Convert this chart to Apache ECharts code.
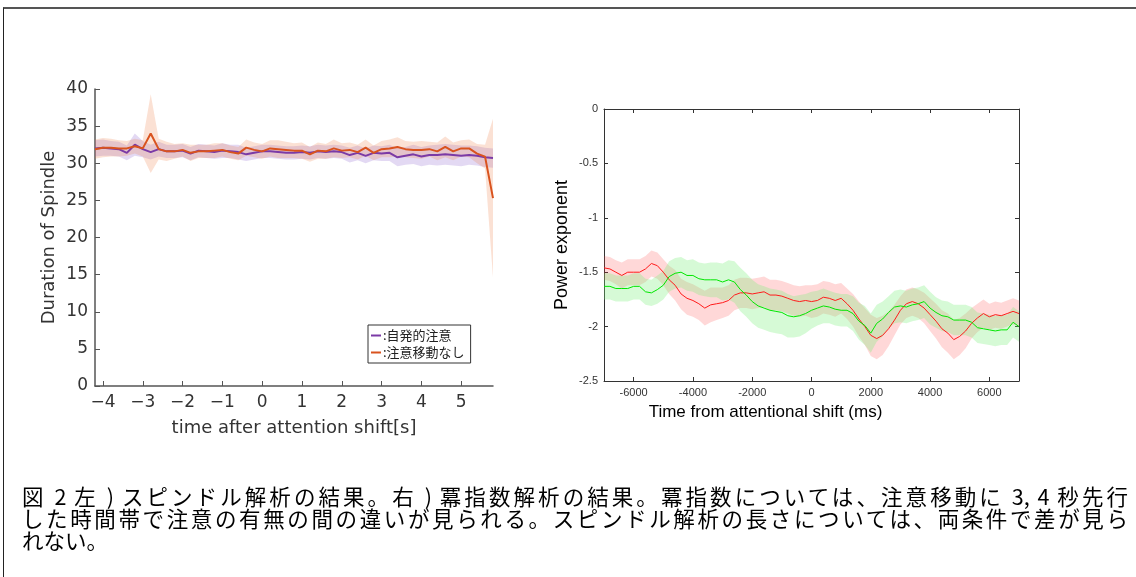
<!DOCTYPE html>
<html>
<head>
<meta charset="utf-8">
<script src="https://cdn.jsdelivr.net/npm/echarts@6/dist/echarts.min.js"></script>
<style>
  body { margin: 0; background: #fff; }
  #frame { position: absolute; left: 3px; top: 7px; right: 0; bottom: 0; border-top: 2px solid #555; border-left: 1px solid #222; }
  #chart { position: absolute; left: 0; top: 0; width: 1136px; height: 577px; }
  #caption { position: absolute; left: 22px; top: 485px; width: 1106px; font-family: "Noto Sans CJK JP", sans-serif; font-size: 21.5px; line-height: 22px; color: #000; }
  #caption .j { text-align: justify; text-align-last: justify; }
</style>
</head>
<body>
<div id="frame"></div>
<div id="chart"></div>
<div id="caption">
  <div class="j">図 2 左 ) スピンドル解析の結果。右 ) 冪指数解析の結果。冪指数については、注意移動に 3, 4 秒先行</div>
  <div class="j">した時間帯で注意の有無の間の違いが見られる。スピンドル解析の長さについては、両条件で差が見ら</div>
  <div>れない。</div>
</div>
<script>
// Left panel: spindle duration (s after attention shift)
const spindleTime = [-4.2, -4.0, -3.8, -3.6, -3.4, -3.2, -3.0, -2.8, -2.6, -2.4, -2.2, -2.0, -1.8, -1.6, -1.4, -1.2, -1.0, -0.8, -0.6, -0.4, -0.2,
  0.0, 0.2, 0.4, 0.6, 0.8, 1.0, 1.2, 1.4, 1.6, 1.8, 2.0, 2.2, 2.4, 2.6, 2.8, 3.0, 3.2, 3.4, 3.6, 3.8, 4.0, 4.2, 4.4, 4.6, 4.8, 5.0, 5.2, 5.4, 5.6, 5.8]
const spontaneous = [32.0, 32.1, 32.0, 31.9, 31.4, 32.5, 31.9, 31.5, 31.9, 31.6, 31.6, 31.7, 31.3, 31.7, 31.6, 31.5, 31.7, 31.6, 31.5, 31.2, 31.4,
  31.6, 31.6, 31.5, 31.4, 31.4, 31.5, 31.4, 31.6, 31.5, 31.6, 31.5, 31.1, 31.4, 31.0, 31.4, 31.3, 31.4, 30.8, 31.0, 31.2, 30.9, 31.1, 31.1, 31.2, 31.1, 31.0, 31.1, 31.0, 30.8, 30.7]
const spontaneousErr = [1.1, 1.1, 1.0, 1.0, 1.0, 1.5, 1.1, 1.0, 1.0, 0.9, 0.9, 0.9, 0.9, 0.9, 0.9, 0.9, 1.0, 0.9, 1.0, 0.9, 0.9,
  0.9, 0.9, 0.9, 0.9, 0.9, 0.9, 0.9, 0.9, 0.9, 0.9, 0.9, 1.0, 1.0, 1.0, 1.0, 1.0, 1.1, 1.2, 1.2, 1.3, 1.3, 1.3, 1.4, 1.4, 1.4, 1.4, 1.3, 1.3, 1.3, 1.3]
const noShift = [31.9, 32.1, 32.1, 32.0, 32.0, 32.3, 32.0, 34.0, 31.9, 31.6, 31.6, 31.8, 31.4, 31.6, 31.6, 31.7, 31.8, 31.5, 31.3, 32.1, 31.8,
  31.6, 32.0, 31.9, 31.8, 31.7, 31.7, 31.2, 31.7, 31.6, 32.0, 31.7, 31.8, 31.5, 32.1, 31.4, 31.9, 32.0, 32.2, 31.9, 31.8, 31.8, 31.9, 31.6, 32.2, 31.6, 32.0, 32.0, 31.3, 30.9, 25.3]
const noShiftErr = [1.3, 1.3, 1.2, 1.1, 1.0, 1.0, 1.1, 5.3, 1.4, 1.3, 1.0, 0.9, 1.1, 0.9, 0.9, 1.0, 0.9, 0.9, 0.9, 1.1, 1.0,
  1.0, 1.1, 1.2, 1.1, 1.0, 1.1, 1.0, 1.1, 1.0, 1.2, 1.0, 1.0, 1.0, 1.1, 1.0, 1.1, 1.2, 1.3, 1.1, 1.1, 1.2, 1.0, 1.2, 1.4, 1.2, 1.1, 1.2, 1.3, 1.6, 10.7]
const spindleTicks = [-4, -3, -2, -1, 0, 1, 2, 3, 4, 5]

// Right panel: power exponent (ms from attentional shift)
const expTime = [-7000, -6800, -6600, -6400, -6200, -6000, -5800, -5600, -5400, -5200, -5000, -4800, -4600, -4400, -4200, -4000, -3800, -3600,
  -3400, -3200, -3000, -2800, -2600, -2400, -2200, -2000, -1800, -1600, -1400, -1200, -1000, -800, -600, -400, -200, 0,
  200, 400, 600, 800, 1000, 1200, 1400, 1600, 1800, 2000, 2200, 2400, 2600, 2800, 3000, 3200, 3400, 3600,
  3800, 4000, 4200, 4400, 4600, 4800, 5000, 5200, 5400, 5600, 5800, 6000, 6200, 6400, 6600, 6800, 7000]
const redExp = [-1.46, -1.47, -1.50, -1.53, -1.50, -1.50, -1.50, -1.47, -1.42, -1.44, -1.50, -1.57, -1.62, -1.70, -1.74, -1.76, -1.79, -1.83,
  -1.80, -1.79, -1.78, -1.76, -1.71, -1.69, -1.69, -1.70, -1.69, -1.68, -1.71, -1.71, -1.72, -1.74, -1.76, -1.77, -1.76, -1.77,
  -1.76, -1.73, -1.74, -1.76, -1.74, -1.79, -1.85, -1.93, -2.00, -2.08, -2.11, -2.08, -2.02, -1.94, -1.85, -1.79, -1.77, -1.79,
  -1.83, -1.89, -1.95, -2.02, -2.06, -2.12, -2.09, -2.04, -1.97, -1.92, -1.88, -1.91, -1.89, -1.90, -1.88, -1.86, -1.88]
const redErr = [0.11, 0.11, 0.11, 0.12, 0.12, 0.12, 0.12, 0.12, 0.12, 0.12, 0.12, 0.13, 0.14, 0.14, 0.15, 0.15, 0.15, 0.16,
  0.16, 0.15, 0.14, 0.14, 0.14, 0.14, 0.14, 0.14, 0.14, 0.14, 0.14, 0.14, 0.14, 0.14, 0.14, 0.14, 0.14, 0.15,
  0.15, 0.15, 0.15, 0.15, 0.14, 0.14, 0.15, 0.16, 0.17, 0.19, 0.19, 0.18, 0.16, 0.14, 0.13, 0.13, 0.13, 0.13,
  0.14, 0.15, 0.16, 0.17, 0.18, 0.18, 0.17, 0.16, 0.14, 0.13, 0.13, 0.12, 0.12, 0.12, 0.12, 0.12, 0.12]
const greenExp = [-1.63, -1.63, -1.65, -1.65, -1.65, -1.63, -1.63, -1.68, -1.69, -1.66, -1.62, -1.54, -1.51, -1.50, -1.53, -1.53, -1.56, -1.57,
  -1.57, -1.57, -1.59, -1.57, -1.59, -1.66, -1.71, -1.77, -1.81, -1.83, -1.85, -1.86, -1.87, -1.90, -1.91, -1.90, -1.88, -1.85,
  -1.83, -1.81, -1.82, -1.84, -1.85, -1.85, -1.88, -1.95, -1.99, -2.06, -1.97, -1.93, -1.87, -1.82, -1.81, -1.82, -1.80, -1.79,
  -1.77, -1.83, -1.87, -1.90, -1.91, -1.94, -1.94, -1.94, -1.96, -2.01, -2.02, -2.03, -2.04, -2.03, -2.03, -1.96, -2.00]
const greenErr = [0.12, 0.12, 0.12, 0.12, 0.12, 0.12, 0.12, 0.12, 0.12, 0.13, 0.13, 0.14, 0.14, 0.14, 0.14, 0.15, 0.15, 0.15,
  0.16, 0.16, 0.17, 0.18, 0.19, 0.20, 0.20, 0.20, 0.20, 0.20, 0.20, 0.20, 0.20, 0.20, 0.19, 0.19, 0.18, 0.17,
  0.16, 0.16, 0.15, 0.15, 0.15, 0.15, 0.16, 0.17, 0.18, 0.18, 0.17, 0.16, 0.15, 0.15, 0.15, 0.15, 0.15, 0.15,
  0.15, 0.15, 0.14, 0.14, 0.14, 0.14, 0.14, 0.14, 0.14, 0.14, 0.14, 0.14, 0.14, 0.14, 0.14, 0.14, 0.14]
const expTicks = [-6000, -4000, -2000, 0, 2000, 4000, 6000]

const pairs = (xs, ys) => xs.map((x, i) => [x, ys[i]])

// shaded error band drawn as one polygon through the axis scales
function band(name, xs, mean, err, color, axisIdx) {
  return {
    name: name,
    type: "custom",
    xAxisIndex: axisIdx,
    yAxisIndex: axisIdx,
    silent: true,
    data: [[xs[0], mean[0]]],
    renderItem: function (params, api) {
      const pts = []
      xs.forEach((x, i) => pts.push(api.coord([x, mean[i] + err[i]])))
      for (let i = xs.length - 1; i >= 0; i--) pts.push(api.coord([xs[i], mean[i] - err[i]]))
      return { type: "polygon", shape: { points: pts }, style: { fill: color } }
    },
  }
}

function line(name, xs, ys, color, width, axisIdx) {
  return {
    name: name,
    type: "line",
    xAxisIndex: axisIdx,
    yAxisIndex: axisIdx,
    data: pairs(xs, ys),
    showSymbol: false,
    symbol: "none",
    silent: true,
    lineStyle: { color: color, width: width },
    itemStyle: { color: color },
  }
}

const leftFont = "DejaVu Sans"
const rightFont = "Liberation Sans"
const PURPLE = "#7b3aa6"
const ORANGE = "#d9531e"

const chart = echarts.init(document.getElementById("chart"))
chart.setOption({
  animation: false,
  grid: [
    { left: 95, top: 89, width: 398, height: 297 },
    { left: 604, top: 109, width: 415, height: 272 },
  ],
  legend: {
    data: ["自発的注意", "注意移動なし"],
    formatter: ":{name}",
    orient: "vertical",
    left: 368,
    top: 325,
    icon: "rect",
    itemWidth: 10,
    itemHeight: 2,
    itemGap: 4,
    padding: [4, 6, 4, 3],
    borderColor: "#333",
    borderWidth: 1,
    backgroundColor: "#fff",
    selectedMode: false,
    textStyle: { fontFamily: "Noto Sans CJK JP", fontSize: 13, color: "#222", padding: [0, 0, 0, -3] },
  },
  xAxis: [
    {
      type: "value", gridIndex: 0, min: -4.2, max: 5.8,
      name: "time after attention shift[s]", nameLocation: "middle", nameGap: 33,
      nameTextStyle: { fontFamily: leftFont, fontSize: 18, color: "#333" },
      axisLine: { show: true, onZero: false, lineStyle: { color: "#555", width: 1.5 } },
      axisTick: { show: true, inside: true, length: 5, customValues: spindleTicks, lineStyle: { color: "#555" } },
      axisLabel: {
        customValues: spindleTicks, margin: 8, fontFamily: leftFont, fontSize: 17, color: "#333",
        formatter: (v) => String(v).replace("-", "\u2212"),
      },
      splitLine: { show: false },
    },
    {
      type: "value", gridIndex: 1, min: -7000, max: 7000,
      name: "Time from attentional shift (ms)", nameLocation: "middle", nameGap: 23,
      nameTextStyle: { fontFamily: rightFont, fontSize: 17, color: "#000", padding: [0, 92, 0, 0] },
      axisLine: { show: true, onZero: false, lineStyle: { color: "#333", width: 1 } },
      axisTick: { show: true, inside: true, length: 4, customValues: expTicks, lineStyle: { color: "#333" } },
      axisLabel: { customValues: expTicks, margin: 6, fontFamily: rightFont, fontSize: 11, color: "#333", formatter: (v) => String(v) },
      splitLine: { show: false },
    },
    {
      type: "value", gridIndex: 1, position: "top", min: -7000, max: 7000,
      axisLine: { show: true, onZero: false, lineStyle: { color: "#333", width: 1 } },
      axisTick: { show: true, inside: true, length: 4, customValues: expTicks, lineStyle: { color: "#333" } },
      axisLabel: { show: false },
      splitLine: { show: false },
    },
  ],
  yAxis: [
    {
      type: "value", gridIndex: 0, min: 0, max: 40, interval: 5,
      name: "Duration of Spindle", nameLocation: "middle", nameGap: 37,
      nameTextStyle: { fontFamily: leftFont, fontSize: 18, color: "#333" },
      axisLine: { show: true, onZero: false, lineStyle: { color: "#555", width: 1.5 } },
      axisTick: { show: true, inside: true, length: 5, lineStyle: { color: "#555" } },
      axisLabel: { margin: 7, fontFamily: leftFont, fontSize: 17, color: "#333" },
      splitLine: { show: false },
    },
    {
      type: "value", gridIndex: 1, min: -2.5, max: 0, interval: 0.5,
      name: "Power exponent", nameLocation: "middle", nameGap: 33,
      nameTextStyle: { fontFamily: rightFont, fontSize: 18, color: "#000" },
      axisLine: { show: true, onZero: false, lineStyle: { color: "#333", width: 1 } },
      axisTick: { show: true, inside: true, length: 4, lineStyle: { color: "#333" } },
      axisLabel: { margin: 6, fontFamily: rightFont, fontSize: 11, color: "#333" },
      splitLine: { show: false },
    },
    {
      type: "value", gridIndex: 1, position: "right", min: -2.5, max: 0, interval: 0.5,
      axisLine: { show: true, onZero: false, lineStyle: { color: "#333", width: 1 } },
      axisTick: { show: true, inside: true, length: 4, lineStyle: { color: "#333" } },
      axisLabel: { show: false },
      splitLine: { show: false },
    },
  ],
  series: [
    // left panel
    band("band-spont", spindleTime, spontaneous, spontaneousErr, "rgba(126,80,200,0.22)", 0),
    band("band-noshift", spindleTime, noShift, noShiftErr, "rgba(235,120,60,0.22)", 0),
    line("自発的注意", spindleTime, spontaneous, PURPLE, 2, 0),
    line("注意移動なし", spindleTime, noShift, ORANGE, 2, 0),
    // right panel: green band is laid over the red line, as in the original
    band("band-red", expTime, redExp, redErr, "rgba(255,60,60,0.2)", 1),
    line("red", expTime, redExp, "#ff1a1a", 1, 1),
    band("band-green", expTime, greenExp, greenErr, "rgba(120,240,120,0.3)", 1),
    line("green", expTime, greenExp, "#00e600", 1, 1),
  ],
})
</script>
</body>
</html>
